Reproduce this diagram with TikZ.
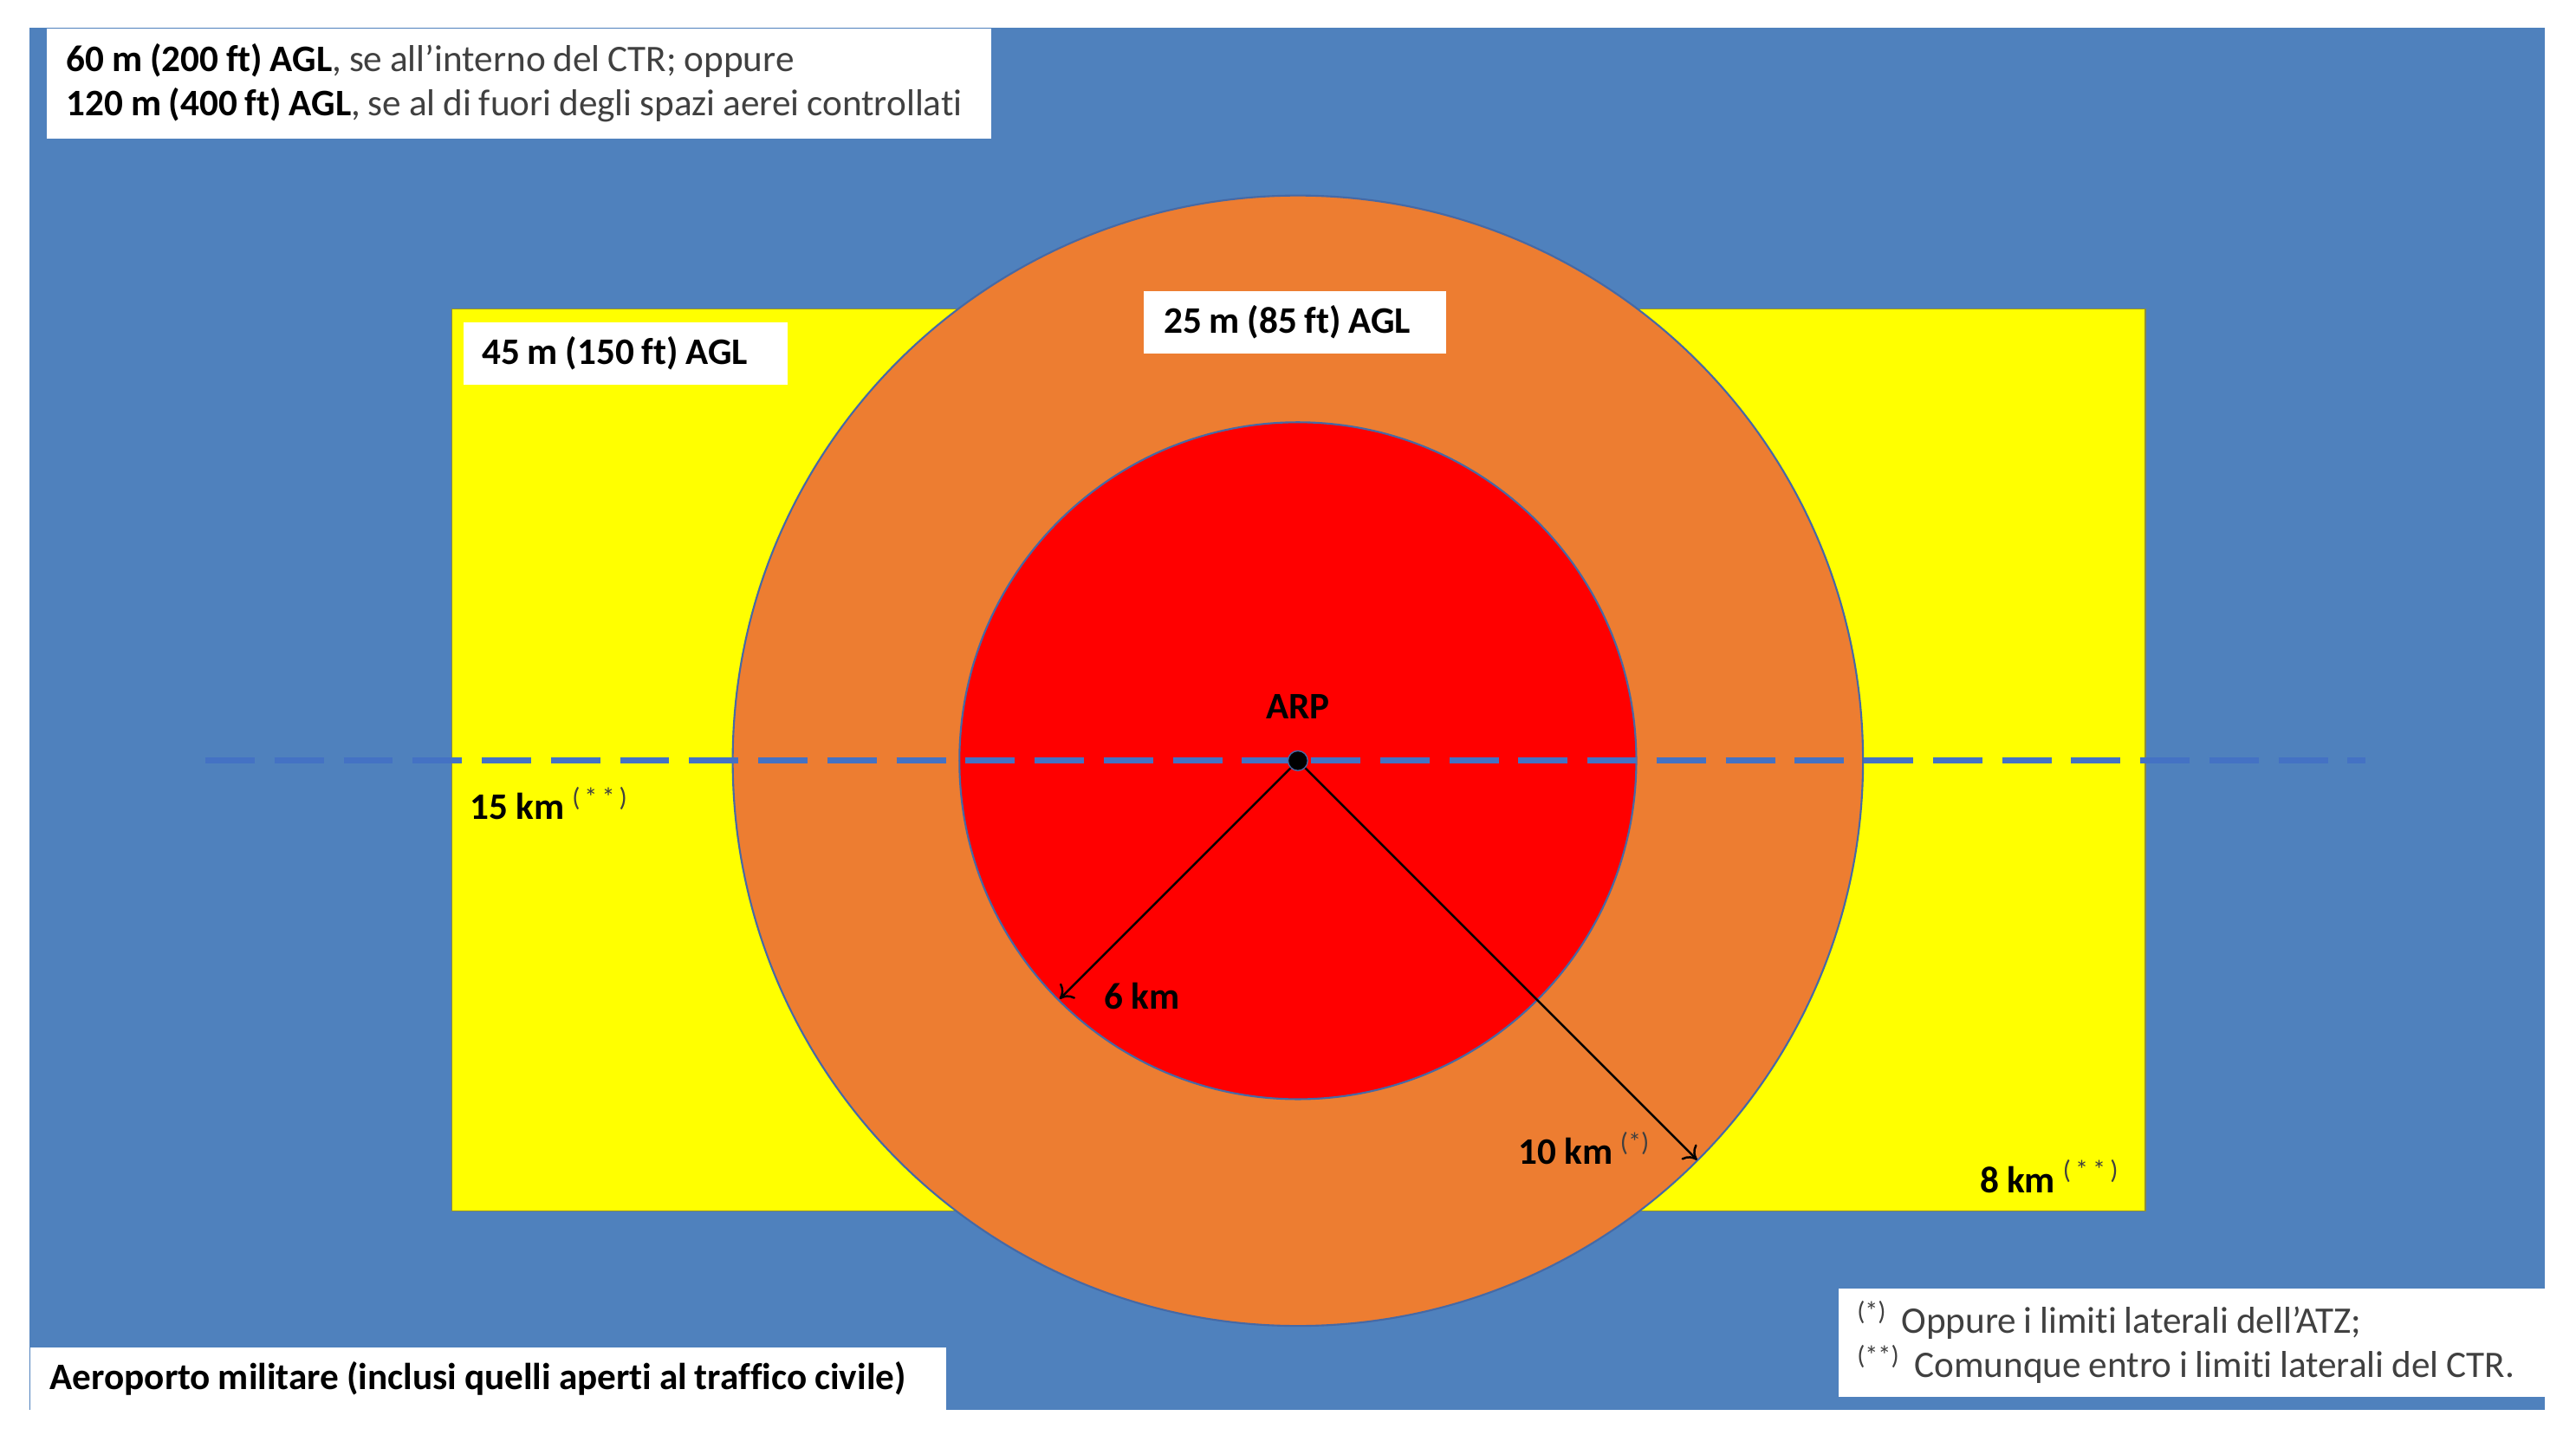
\documentclass[tikz,border=0pt]{standalone}
\usepackage{fontspec}
\setmainfont{Carlito}[WordSpace=0.9, Ligatures=NoCommon]
\usetikzlibrary{arrows.meta}
\definecolor{bgblue}{RGB}{79,129,189}
\definecolor{dashblue}{RGB}{68,114,196}
\definecolor{orangeC}{RGB}{237,125,49}
\definecolor{yellowC}{RGB}{255,255,0}
\definecolor{redC}{RGB}{255,0,0}
\definecolor{edgeblue}{RGB}{70,105,165}
\definecolor{edgeolive}{RGB}{140,140,60}
\definecolor{txtgray}{RGB}{64,64,64}
\begin{document}
\begin{tikzpicture}[x=0.018960cm,y=-0.018960cm,
  every node/.style={font=\fontsize{12.3}{14.6}\selectfont},
  whitebox/.style={fill=white, anchor=north west, inner sep=0pt},
  txt/.style={anchor=west, align=left, inner sep=0pt},
  lbl/.style={anchor=west, inner sep=0pt, font=\fontsize{12.3}{14.6}\selectfont\bfseries},
  circline/.style={draw=edgeblue, line width=0.6pt},
  dashline/.style={draw=dashblue, line width=2pt, dash pattern=on 16.2pt off 6.5pt},
  arrowline/.style={draw=black, line width=0.7pt, -{To[length=4pt,width=7pt]}}]
\useasboundingbox (0,0) rectangle (1568,881.3);
\fill[white] (0,0) rectangle (1568,881.3);
\fill[bgblue] (18,17) rectangle (1549,858);
\draw[draw=edgeolive, line width=0.5pt, fill=yellowC] (275,188) rectangle (1306,737);
\draw[circline, fill=orangeC] (790,463) circle[radius=344];
\draw[circline, fill=redC] (790,463) circle[radius=206];
\draw[dashline] (125,463) -- (1440,463);

% top-left box
\node[whitebox, minimum width=310.2pt, minimum height=36.1pt] (tl) at (28,17) {};
\node[txt] (tltxt) at (40,50.5)
  {\textbf{60 m (200 ft) AGL}\textcolor{txtgray}{, se all’interno del CTR; oppure}\\
   \textbf{120 m (400 ft) AGL}\textcolor{txtgray}{, se al di fuori degli spazi aerei controllati}};

% altitude boxes
\node[whitebox, minimum width=106.3pt, minimum height=20.5pt] (b45) at (282,196) {};
\node[lbl] (b45txt) at (293,215) {45 m (150 ft) AGL};
\node[whitebox, minimum width=99.3pt, minimum height=20.5pt] (b25) at (696,177) {};
\node[lbl] (b25txt) at (708,196) {25 m (85 ft) AGL};

% bottom-left box
\node[whitebox, minimum width=301pt, minimum height=20.5pt] (bl) at (18,820) {};
\node[lbl] (bltxt) at (30,839) {Aeroporto militare (inclusi quelli aperti al traffico civile)};

% bottom-right box
\node[whitebox, minimum width=232pt, minimum height=35.6pt] (br) at (1119,784) {};
\node[txt, text=txtgray] (brtxt) at (1130,817)
  {\textsuperscript{(*)}\, Oppure i limiti laterali dell’ATZ;\\
   \textsuperscript{(**)}\, Comunque entro i limiti laterali del CTR.};

% ARP
\node[circle, fill=black, draw=edgeblue, line width=0.4pt, minimum size=6.5pt, inner sep=0pt] (arp) at (790,463) {};
\node[lbl, anchor=center] (arplbl) at (790,430) {ARP};

\coordinate (p6) at (645,608);
\coordinate (p10) at (1033,706);
\draw[arrowline] (arp) -- (p6);
\draw[arrowline] (arp) -- (p10);

\node[lbl] (l6) at (672,606) {6 km};
\node[lbl] (l10) at (924,699) {10 km \textsuperscript{\mdseries\color{txtgray}(*)}};
\node[lbl] (l8) at (1205,716) {8 km \textsuperscript{\mdseries\color{txtgray}(\,*\,*\,)}};
\node[lbl] (l15) at (286,489) {15 km \textsuperscript{\mdseries\color{txtgray}(\,*\,*\,)}};
\end{tikzpicture}
\end{document}
